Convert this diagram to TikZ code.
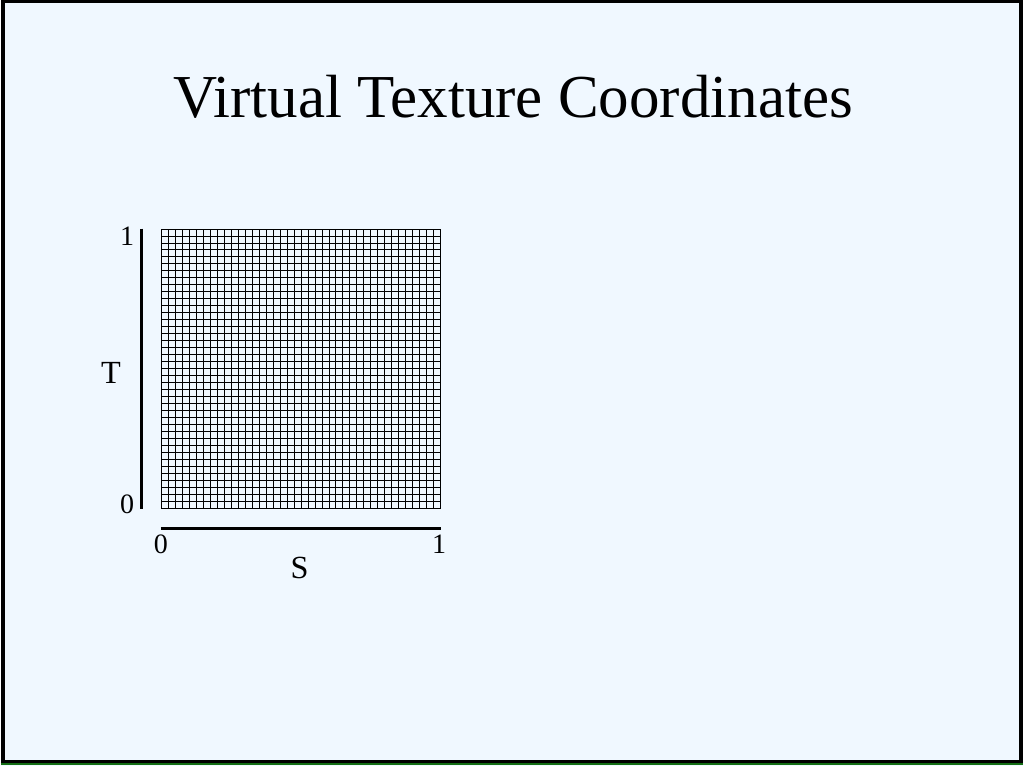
\documentclass[tikz,border=0pt]{standalone}
\usepackage{fontspec}
\setmainfont{Liberation Serif}
\usetikzlibrary{positioning, calc}
\definecolor{slidebg}{RGB}{240,248,255}
\definecolor{edgegreen}{RGB}{20,110,20}

\begin{document}
\begin{tikzpicture}[
    x=0.025cm, y=-0.025cm,
    title/.style={font=\fontsize{43.5}{48}\selectfont, inner sep=0pt},
    axislabel/.style={font=\fontsize{23}{26}\selectfont, inner sep=0pt},
    ticklabel/.style={font=\fontsize{20}{22}\selectfont, inner sep=0pt},
    gridline/.style={black, line width=0.025cm},
    axisline/.style={black, line width=0.075cm}
]

% Slide background and frame
\fill[slidebg] (0,0) rectangle (1024,768);
\draw[edgegreen, line width=2pt] (0,766) -- (1024,766);
\draw[black, line width=2.4pt] (1.5,1.5) rectangle (1022.5,763.5);
\useasboundingbox (0,0) rectangle (1024,768);

% Title
\node[title] (heading) at (513,97) {Virtual Texture Coordinates};

% Texture grid
\coordinate (gridbl) at (160.5,509.5);
\coordinate (gridtr) at (440.5,229.5);
\foreach \i in {0,...,40} {
  \draw[gridline] (160.5+7*\i,229.5) -- (160.5+7*\i,509.5);
  \draw[gridline] (160.5,229.5+7*\i) -- (440.5,229.5+7*\i);
}

% T axis
\coordinate (ttop) at (140.5,229);
\coordinate (tbot) at (140.5,510);
\draw[axisline] (ttop) -- (tbot);
\node[ticklabel] (tone) at (126,237) {1};
\node[ticklabel] (tzero) at (126,506) {0};
\node[axislabel] (tlabel) at (110,374) {T};

% S axis
\coordinate (sleft) at (160,529.5);
\coordinate (sright) at (441,529.5);
\draw[axisline] (sleft) -- (sright);
\node[ticklabel] (szero) at (160,546) {0};
\node[ticklabel] (sone) at (439,546) {1};
\node[axislabel] (slabel) at (299,569) {S};

\end{tikzpicture}
\end{document}
